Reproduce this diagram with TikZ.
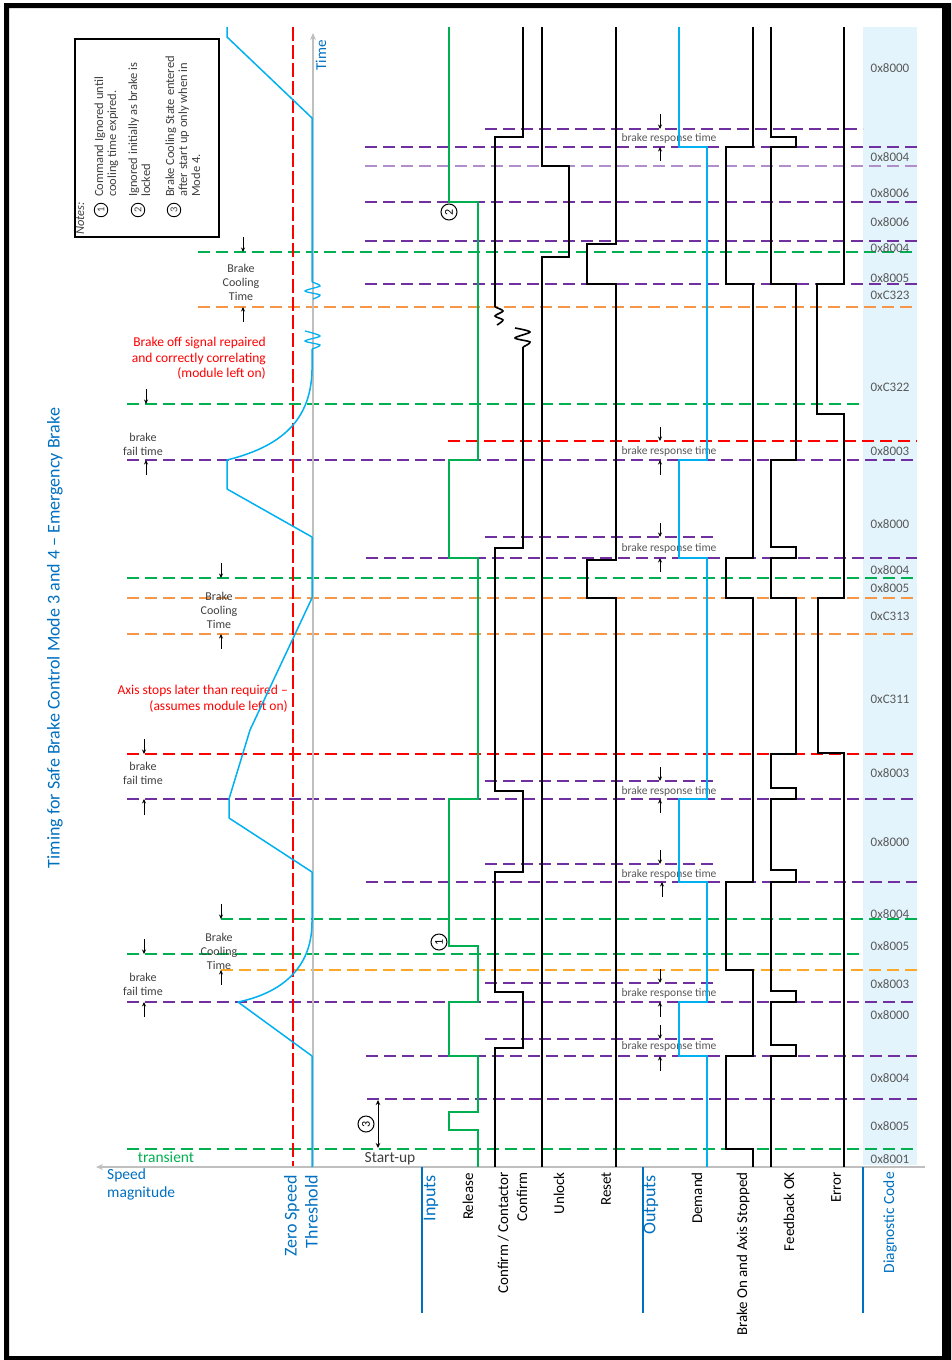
\documentclass[tikz,border=0pt]{standalone}
\usepackage{fontspec}
\setmainfont{Carlito}
\usetikzlibrary{arrows.meta}
\definecolor{evpurple}{HTML}{7030A0}
\definecolor{evgreen}{HTML}{00B050}
\definecolor{evorange}{HTML}{F79646}
\definecolor{evyellow}{HTML}{FFA726}
\definecolor{evred}{HTML}{FF0000}
\definecolor{lblue}{HTML}{00B0F0}
\definecolor{dblue}{HTML}{0070C0}
\definecolor{bandblue}{HTML}{E4F4FC}
\definecolor{codegray}{HTML}{595959}
\definecolor{txtgray}{HTML}{404040}
\definecolor{axisgray}{HTML}{BFBFBF}
\begin{document}
\begin{tikzpicture}[x=1pt,y=-1pt,
  ev/.style={dash pattern=on 12pt off 6pt, line width=1.4pt},
  sigline/.style={line width=1.6pt, line join=miter},
  tickarr/.style={line width=1pt, black, -{Stealth[length=4.5pt,width=4pt]}},
  codetxt/.style={font=\fontsize{13}{15}\selectfont, text=codegray, inner sep=0pt},
  resptxt/.style={font=\fontsize{11.5}{13}\selectfont, text=codegray, inner sep=0pt},
  smallnote/.style={font=\fontsize{12}{14}\selectfont, text=txtgray, align=center, inner sep=0pt},
  vlabel/.style={rotate=90, anchor=east, inner sep=0pt, font=\fontsize{15}{19}\selectfont},
  blabel/.style={rotate=90, anchor=east, inner sep=0pt, text=dblue, font=\fontsize{18}{21}\selectfont},
  circnum/.style={circle, draw, line width=1pt, inner sep=0pt, minimum size=16pt, rotate=90, font=\fontsize{12}{12}\selectfont, fill=white},
  notecirc/.style={circle, draw, line width=0.9pt, inner sep=0pt, minimum size=13.5pt, rotate=90, font=\fontsize{10.5}{10.5}\selectfont, text=txtgray}
]
\useasboundingbox (0,0) rectangle (951,1360);
% frame
\fill[black, even odd rule] (4,3) rectangle (951,1360) (9,8) rectangle (942,1356);

% diagnostic band
\fill[bandblue] (863,27) rectangle (917,1165);

% event lines
\foreach \yy/\xa/\xb/\cc in {
  129/485/863/evpurple, 147/365/917/evpurple, 166/365/917/evpurple!55,
  202/365/917/evpurple, 241/365/917/evpurple, 252/198/917/evgreen,
  284/365/917/evpurple, 307/198/917/evorange,
  404/127/863/evgreen, 441/448/917/evred, 460/127/917/evpurple,
  537/485/717/evpurple, 558/366/917/evpurple, 578/127/917/evgreen,
  598/127/917/evorange, 634/127/917/evorange, 754/127/917/evred,
  781/485/717/evpurple, 799/127/917/evpurple, 864/485/717/evpurple,
  882/366/917/evpurple, 919/221/917/evgreen, 954/127/863/evgreen,
  970/221/917/evyellow, 983/485/717/evpurple, 1002/127/917/evpurple,
  1039/485/717/evpurple, 1056/366/917/evpurple, 1099/367/917/evpurple,
  1149/127/917/evgreen}
  \draw[ev,\cc] (\xa,\yy) -- (\xb,\yy);

% zero speed threshold
\draw[evred, dash pattern=on 14pt off 4pt, line width=1.4pt] (293,27) -- (293,1167);

% axes
\draw[axisgray, line width=1.3pt, -{Stealth[length=7pt,width=6pt]}] (313,1167) -- (313,33);
\draw[axisgray, line width=1.3pt, -{Stealth[length=7pt,width=6pt]}] (925,1167) -- (96,1167);

% bottom separators
\foreach \xx in {422,643,863} \draw[dblue, line width=1.4pt] (\xx,1167) -- (\xx,1313);

% notes box
\draw[line width=1.2pt] (75,39) rectangle (219,237);
\node[rotate=90, anchor=north west, inner sep=0pt, align=left, text=txtgray,
      font=\fontsize{12.5}{13}\selectfont] (notes) at (76,235) {%
\textit{Notes:}\\[6pt]
\hspace*{38pt}Command Ignored until\\
\hspace*{38pt}cooling time expired.\\[8pt]
\hspace*{38pt}Ignored initially as brake is\\
\hspace*{38pt}locked\\[11pt]
\hspace*{38pt}Brake Cooling State entered\\
\hspace*{38pt}after start up only when in\\
\hspace*{38pt}Mode 4.};
\node[notecirc] (n1) at (101,210) {1};
\node[notecirc] (n2) at (138,210) {2};
\node[notecirc] (n3) at (174,210) {3};

% texts (under signals)
\node[rotate=90, text=dblue, font=\fontsize{18}{20}\selectfont] (title) at (55,638)
  {Timing for Safe Brake Control Mode 3 and 4 – Emergency Brake};
\node[rotate=90, anchor=east, inner sep=0pt, text=dblue, font=\fontsize{15}{17}\selectfont] (timelbl) at (321,40) {Time};

\node[anchor=north east, align=right, inner sep=0pt, text=evred, font=\fontsize{13.5}{15.5}\selectfont] (ann1) at (266,337)
  {Brake off signal repaired\\and correctly correlating\\(module left on)};
\node[anchor=north east, align=right, inner sep=0pt, text=evred, font=\fontsize{13.5}{15.5}\selectfont] (ann2) at (288,685)
  {Axis stops later than required –\\(assumes module left on)};

\node[smallnote] (bct1) at (241,282) {Brake\\Cooling\\Time};
\node[smallnote] (bct2) at (219,610) {Brake\\Cooling\\Time};
\node[smallnote] (bct3) at (219,951) {Brake\\Cooling\\Time};
\node[smallnote] (bft1) at (143,444) {brake\\fail time};
\node[smallnote] (bft2) at (143,773) {brake\\fail time};
\node[smallnote] (bft3) at (143,984) {brake\\fail time};

\foreach \yy [count=\i] in {138,451,548,791,874,993,1046}
  \node[resptxt] (resp\i) at (669,\yy) {brake response time};

% tick arrows
\foreach \xx/\ya/\yb in {
  660/114/129, 660/161/147, 660/427/441, 660/475/460, 660/523/537, 660/572/558,
  660/767/781, 660/813/799, 660/850/864, 662/897/882, 660/969/983, 660/1017/1002,
  660/1025/1039, 660/1071/1056,
  146/389/404, 146/475/460, 144/739/754, 144/815/799, 144/939/954, 144/1017/1002,
  243/237/252, 243/322/307, 221/563/578, 221/649/634, 221/904/919, 221/985/970}
  \draw[tickarr] (\xx,\ya) -- (\xx,\yb);

\draw[line width=1pt, {Stealth[length=5pt,width=4.5pt]}-{Stealth[length=5pt,width=4.5pt]}] (378,1100) -- (378,1148);

\node[text=evgreen, font=\fontsize{15.5}{17}\selectfont, inner sep=0pt] (transient) at (166,1157) {transient};
\node[text=txtgray, font=\fontsize{15.5}{17}\selectfont, inner sep=0pt] (startup) at (390,1159) {Start-up};

% codes
\foreach \yy/\cv [count=\i] in {68/0x8000, 157/0x8004, 193/0x8006, 222/0x8006, 248/0x8004,
  278/0x8005, 295/0xC323, 387/0xC322, 451/0x8003, 524/0x8000, 570/0x8004, 588/0x8005,
  616/0xC313, 699/0xC311, 773/0x8003, 842/0x8000, 914/0x8004, 946/0x8005, 984/0x8003,
  1015/0x8000, 1078/0x8004, 1126/0x8005, 1159/0x8001}
  \node[codetxt] (code\i) at (890,\yy) {\cv};

% speed curve
\draw[lblue, line width=1.5pt, line join=round] (227,27) -- (227,37) -- (312,118) -- (312,282);
\draw[lblue, line width=1.3pt] plot[smooth] coordinates {(312,282) (320,286) (305,291) (320,295) (313,299)};
\draw[lblue, line width=1.3pt] plot[smooth] coordinates {(305,331) (320,336) (305,341) (320,345) (312,349)};
\draw[lblue, line width=1.5pt, line join=round] (312,349) -- (312,370)
  .. controls (311,425) and (275,448) .. (227,460) -- (227,489) -- (312,537) -- (312,598)
  -- (250,730) -- (229,799) -- (229,818) -- (312,872) -- (312,922)
  .. controls (312,975) and (272,995) .. (238,1002) -- (312,1056) -- (312,1167);

% Release
\draw[sigline, evgreen] (449,27) -- (449,202) -- (478,202) -- (478,460) -- (449,460) -- (449,558)
  -- (478,558) -- (478,799) -- (449,799) -- (449,946) -- (478,946) -- (478,1002) -- (449,1002)
  -- (449,1056) -- (478,1056) -- (478,1112) -- (449,1112) -- (449,1130) -- (478,1130) -- (478,1167);
% Confirm
\draw[sigline] (523,27) -- (523,137) -- (495,137) -- (495,307);
\draw[sigline] plot[smooth] coordinates {(495,307) (503,311) (495,316) (503,320) (497,325)};
\draw[sigline] plot[smooth] coordinates {(515,328) (530,332) (515,338) (530,342) (523,347)};
\draw[sigline] (523,347) -- (523,548) -- (495,548) -- (495,791) -- (523,791) -- (523,872)
  -- (495,872) -- (495,992) -- (523,992) -- (523,1048) -- (495,1048) -- (495,1167);
% Unlock
\draw[sigline] (542,27) -- (542,166) -- (569,166) -- (569,257) -- (542,257) -- (542,1167);
% Reset
\draw[sigline] (616,27) -- (616,244) -- (587,244) -- (587,284) -- (616,284) -- (616,560)
  -- (587,560) -- (587,598) -- (616,598) -- (616,1167);
% Demand
\draw[sigline, lblue] (679,27) -- (679,147) -- (707,147) -- (707,460) -- (679,460) -- (679,558)
  -- (707,558) -- (707,799) -- (679,799) -- (679,882) -- (707,882) -- (707,1002) -- (679,1002)
  -- (679,1056) -- (707,1056) -- (707,1167);
% Brake on and axis stopped
\draw[sigline] (753,27) -- (753,147) -- (726,147) -- (726,284) -- (753,284) -- (753,558)
  -- (726,558) -- (726,598) -- (753,598) -- (753,882) -- (726,882) -- (726,970) -- (753,970)
  -- (753,1056) -- (726,1056) -- (726,1149) -- (753,1149) -- (753,1167);
% Feedback OK
\draw[sigline] (771,27) -- (771,137) -- (796,137) -- (796,147) -- (771,147) -- (771,284)
  -- (796,284) -- (796,460) -- (771,460) -- (771,547) -- (796,547) -- (796,558) -- (771,558)
  -- (771,598) -- (796,598) -- (796,754) -- (771,754) -- (771,788) -- (796,788) -- (796,799)
  -- (771,799) -- (771,870) -- (796,870) -- (796,882) -- (771,882) -- (771,991) -- (796,991)
  -- (796,1002) -- (771,1002) -- (771,1045) -- (796,1045) -- (796,1056) -- (771,1056) -- (771,1167);
% Error
\draw[sigline] (844,27) -- (844,284) -- (817,284) -- (817,414) -- (844,414) -- (844,598)
  -- (818,598) -- (818,753) -- (844,753) -- (844,1167);

% circled notes
\node[circnum] (c1) at (439,942) {1};
\node[circnum] (c2) at (449,212) {2};
\node[circnum] (c3) at (366,1124) {3};

% bottom labels
\node[anchor=north west, align=left, inner sep=0pt, text=dblue, font=\fontsize{15.5}{18}\selectfont] (speedlbl) at (107,1169) {Speed\\magnitude};
\node[blabel, align=right] (zst) at (301,1175) {Zero Speed\\Threshold};
\node[blabel] (inputs) at (431,1175) {Inputs};
\node[vlabel] (release) at (468,1173) {Release};
\node[vlabel, align=right] (confirm) at (512.5,1172) {Confirm / Contactor\\Confirm};
\node[vlabel] (unlock) at (559,1172) {Unlock};
\node[vlabel] (reset) at (606,1172) {Reset};
\node[blabel] (outputs) at (651,1175) {Outputs};
\node[vlabel] (demand) at (697,1172) {Demand};
\node[vlabel] (brakeon) at (743,1172) {Brake On and Axis Stopped};
\node[vlabel] (feedback) at (789,1172) {Feedback OK};
\node[vlabel] (error) at (836,1172) {Error};
\node[rotate=90, anchor=east, inner sep=0pt, text=dblue, font=\fontsize{15.5}{18}\selectfont] (diag) at (890,1172) {Diagnostic Code};
\end{tikzpicture}
\end{document}
